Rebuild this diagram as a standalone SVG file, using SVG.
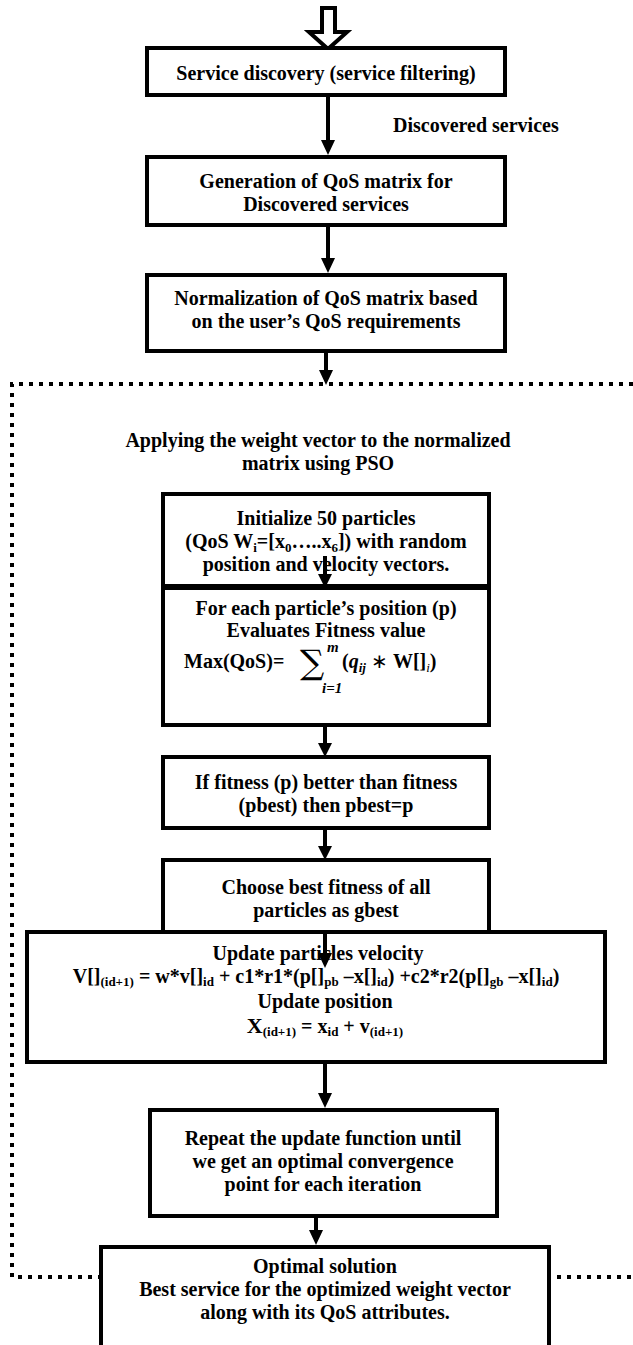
<svg xmlns="http://www.w3.org/2000/svg" width="633" height="1345" viewBox="0 0 633 1345">
<style>
.t{font-family:"Liberation Serif","Times New Roman",serif;font-weight:bold;font-size:20px;fill:#000;text-anchor:middle}
.l{text-anchor:start}
.box{fill:#fff;stroke:#000;stroke-width:4}
.c{stroke:#000;stroke-width:4;fill:none}
.dot{stroke:#000;stroke-width:4;fill:none;stroke-dasharray:4 6}
.s{font-size:13px}
.m{font-family:"Liberation Serif","Times New Roman",serif;font-size:15px;font-style:italic;font-weight:bold}
</style>
<g id="region">
<path class="dot" d="M633,384 H12 V1277 H101"/>
<path class="dot" d="M557,1277 H633"/>
</g>
<g id="connectors">
<path d="M322,8 H335 V32 H347 L328,49 L309,32 H322 Z" fill="#fff" stroke="#000" stroke-width="4" stroke-linejoin="miter"/>
<line class="c" x1="328" y1="97" x2="328" y2="142"/>
<path d="M321,140 H335 L328,155 Z"/>
<line class="c" x1="328" y1="227" x2="328" y2="260"/>
<path d="M321,258 H335 L328,273 Z"/>
<line class="c" x1="326" y1="353" x2="326" y2="372"/>
<path d="M319,370 H333 L326,385 Z"/>
<line class="c" x1="325" y1="727" x2="325" y2="745"/>
<path d="M318,743 H332 L325,757 Z"/>
<line class="c" x1="325" y1="830" x2="325" y2="848"/>
<path d="M318,846 H332 L325,860 Z"/>
<line class="c" x1="325" y1="1064" x2="325" y2="1095"/>
<path d="M318,1093 H332 L325,1108 Z"/>
<line class="c" x1="316" y1="1216" x2="316" y2="1232"/>
<path d="M309,1230 H323 L316,1245 Z"/>
</g>
<g id="n1">
<rect class="box" x="147" y="48" width="358" height="47"/>
<text class="t" x="326" y="80">Service discovery (service filtering)</text>
</g>
<g id="lbl">
<text class="t l" x="393" y="132">Discovered services</text>
</g>
<g id="n2">
<rect class="box" x="147" y="157" width="358" height="68"/>
<text class="t" x="326" y="188">Generation of QoS matrix for</text>
<text class="t" x="326" y="211">Discovered services</text>
</g>
<g id="n3">
<rect class="box" x="147" y="275" width="358" height="76"/>
<text class="t" x="326" y="305">Normalization of QoS matrix based</text>
<text class="t" x="326" y="328">on the user’s QoS requirements</text>
</g>
<g id="title">
<text class="t" x="318" y="447">Applying the weight vector to the normalized</text>
<text class="t" x="318" y="470">matrix using PSO</text>
</g>
<g id="n4">
<rect class="box" x="163" y="494" width="326" height="92"/>
<text class="t" x="326" y="525">Initialize 50 particles</text>
<text class="t" x="326" y="548">(QoS W<tspan class="s" dy="4">i</tspan><tspan dy="-4">=[x</tspan><tspan class="s" dy="4">0</tspan><tspan dy="-4">…..x</tspan><tspan class="s" dy="4">6</tspan><tspan dy="-4">]) with random</tspan></text>
<text class="t" x="326" y="571">position and velocity vectors.</text>
</g>
<g id="n5">
<rect class="box" x="163" y="588" width="326" height="137"/>
<text class="t" x="326" y="615">For each particle’s position (p)</text>
<text class="t" x="326" y="637">Evaluates Fitness value</text>
<text class="t l" x="184" y="668">Max(QoS)= </text>
<text x="300" y="674" style="font-family:'DejaVu Serif',serif;font-size:34px">∑</text>
<text class="m" x="327" y="652">m</text>
<text class="m" x="322" y="693">i=1</text>
<text class="t l" x="342" y="668">(<tspan font-style="italic">q</tspan><tspan class="s" font-style="italic" dy="4">ij</tspan><tspan dy="-4" font-weight="normal">   ∗  </tspan>W[]<tspan class="s" font-style="italic" font-weight="normal" dy="4">i</tspan><tspan dy="-4">)</tspan></text>
</g>
<g id="n6">
<rect class="box" x="163" y="757" width="326" height="71"/>
<text class="t" x="326" y="789">If fitness (p) better than fitness</text>
<text class="t" x="326" y="812">(pbest) then pbest=p</text>
</g>
<g id="n7">
<rect class="box" x="163" y="860" width="326" height="72"/>
<text class="t" x="326" y="894">Choose best fitness of all</text>
<text class="t" x="326" y="917">particles as gbest</text>
</g>
<g id="n8">
<rect class="box" x="27" y="932" width="578" height="130"/>
<text class="t" x="318" y="960">Update particles velocity</text>
<text class="t" x="316" y="983">V[]<tspan class="s" dy="3">(id+1)</tspan><tspan dy="-3"> = w*v[]</tspan><tspan class="s" dy="3">id</tspan><tspan dy="-3"> + c1*r1*(p[]</tspan><tspan class="s" dy="3">pb</tspan><tspan dy="-3"> –x[]</tspan><tspan class="s" dy="3">id</tspan><tspan dy="-3">) +c2*r2(p[]</tspan><tspan class="s" dy="3">gb</tspan><tspan dy="-3"> –x[]</tspan><tspan class="s" dy="3">id</tspan><tspan dy="-3">)</tspan></text>
<text class="t" x="325" y="1008">Update position</text>
<text class="t" x="325" y="1033"><tspan style="font-size:22px">X</tspan><tspan class="s" dy="3">(id+1)</tspan><tspan dy="-3"> = x</tspan><tspan class="s" dy="3">id</tspan><tspan dy="-3"> + v</tspan><tspan class="s" dy="3">(id+1)</tspan></text>
</g>
<g id="n9">
<rect class="box" x="150" y="1110" width="347" height="106"/>
<text class="t" x="323" y="1145">Repeat the update function until</text>
<text class="t" x="323" y="1168">we get an optimal convergence</text>
<text class="t" x="323" y="1191">point for each iteration</text>
</g>
<g id="n10">
<rect class="box" x="101" y="1247" width="448" height="110"/>
<text class="t" x="325" y="1273">Optimal solution</text>
<text class="t" x="325" y="1296">Best service for the optimized weight vector</text>
<text class="t" x="325" y="1319">along with its QoS attributes.</text>
</g>
<g id="arrows-over-text">
<line class="c" x1="325" y1="556" x2="325" y2="576"/>
<path d="M318,574 H332 L325,588 Z"/>
<line class="c" x1="325" y1="934" x2="325" y2="955"/>
<path d="M318,953 H332 L325,968 Z"/>
</g>
</svg>
